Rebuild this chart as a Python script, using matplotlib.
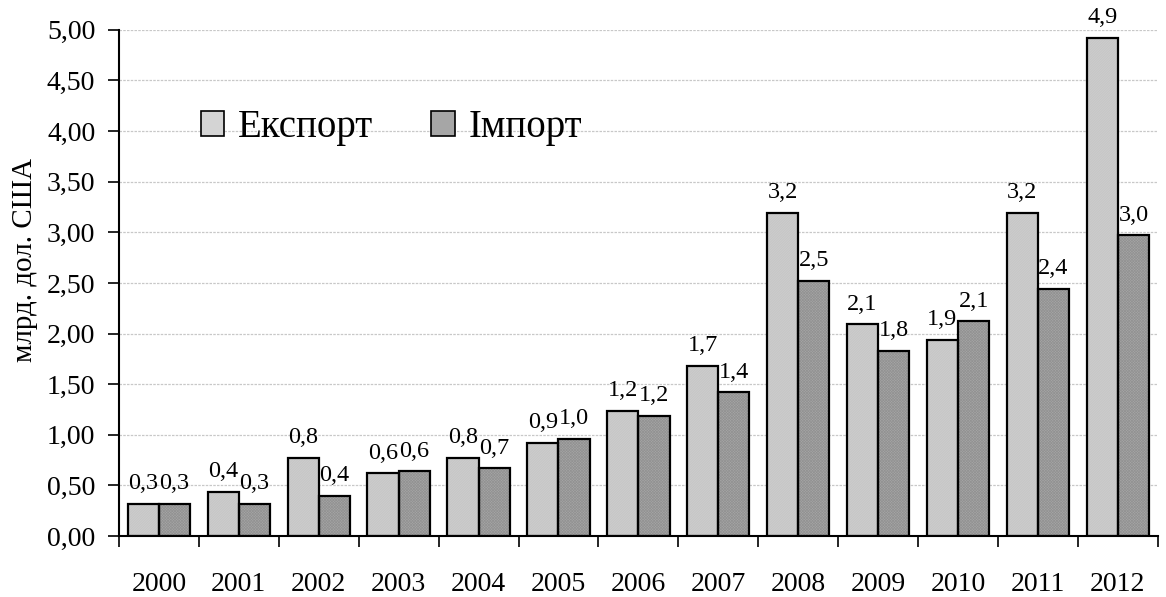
import matplotlib
matplotlib.use("Agg")
import matplotlib.pyplot as plt
import numpy as np
from matplotlib.patches import Patch
from matplotlib.ticker import FuncFormatter, MultipleLocator

plt.rcParams["font.family"] = ["Liberation Serif", "DejaVu Serif"]
plt.rcParams["hatch.linewidth"] = 0.5

# data (bln USD)
years = ["2000", "2001", "2002", "2003", "2004", "2005", "2006",
         "2007", "2008", "2009", "2010", "2011", "2012"]
export_vals = [0.32, 0.44, 0.77, 0.62, 0.77, 0.92, 1.24, 1.68, 3.19, 2.09,
               1.94, 3.19, 4.92]
import_vals = [0.32, 0.32, 0.40, 0.64, 0.67, 0.96, 1.19, 1.42, 2.52, 1.83,
               2.12, 2.44, 2.97]
series_names = ["Експорт", "Імпорт"]

x = np.arange(len(years))
w = 0.39

fig = plt.figure(figsize=(11.66, 5.97), dpi=100)
ax = fig.add_axes([0.102, 0.102, 0.891, 0.848])


def hatched_bars(pos, vals, face, hatch_col, hatch, label):
    # fill + fine hatch first, black outline on top
    ax.bar(pos, vals, w, color=face, edgecolor=hatch_col, linewidth=0,
           hatch=hatch, zorder=2)
    ax.bar(pos, vals, w, facecolor="none", edgecolor="black",
           linewidth=1.6, zorder=3)
    return Patch(facecolor=face, edgecolor="black", linewidth=1.2, label=label)


h1 = hatched_bars(x - w / 2, export_vals, "#d4d4d4", "#c2c2c2", "/" * 20,
                  series_names[0])
h2 = hatched_bars(x + w / 2, import_vals, "#a6a6a6", "#929292", "x" * 12,
                  series_names[1])

for xs, vals in ((x - w / 2, export_vals), (x + w / 2, import_vals)):
    for xi, v in zip(xs, vals):
        ax.annotate(f"{v:.1f}".replace(".", ","), (xi, v),
                    xytext=(0, 7), textcoords="offset points",
                    ha="center", va="bottom", fontsize=17.5)

ax.set_xlim(-0.5, len(years) - 0.5)
ax.set_ylim(0, 5.0)
ax.yaxis.set_major_locator(MultipleLocator(0.5))
ax.yaxis.set_major_formatter(FuncFormatter(lambda v, p: f"{v:.2f}".replace(".", ",")))
ax.grid(axis="y", color="#c8c8c8", linestyle=(0, (2, 1)), linewidth=0.9, zorder=0)
ax.set_axisbelow(True)

ax.set_xticks(x)
ax.set_xticklabels(years)
ax.set_xticks(np.arange(-0.5, len(years), 1), minor=True)
ax.tick_params(axis="x", which="major", length=0, pad=26, labelsize=20)
ax.tick_params(axis="x", which="minor", length=8, width=1.2, direction="out")
ax.tick_params(axis="y", length=8, width=1.2, pad=9, labelsize=20)

for s in ("top", "right"):
    ax.spines[s].set_visible(False)
for s in ("left", "bottom"):
    ax.spines[s].set_linewidth(1.5)

ax.set_ylabel("млрд. дол. США", fontsize=21)
ax.yaxis.set_label_coords(-0.078, 0.545)

ax.legend(handles=[h1, h2], loc="center left", bbox_to_anchor=(0.045, 0.807),
          frameon=False, ncol=2, fontsize=28, handlelength=0.6,
          handleheight=0.6, handletextpad=0.35, columnspacing=1.5)

fig.savefig("out.png", dpi=100, facecolor="white")
